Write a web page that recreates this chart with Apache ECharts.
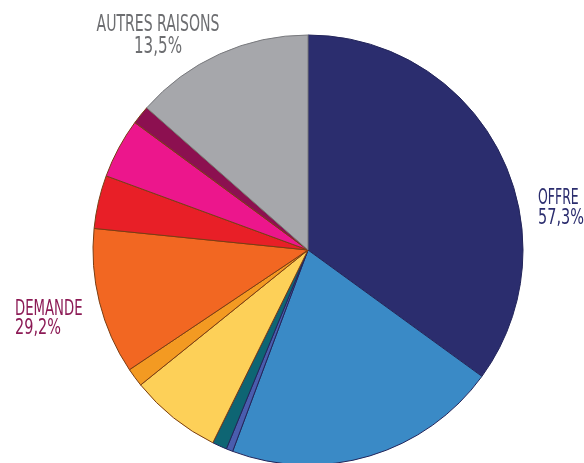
<!DOCTYPE html>
<html>
<head>
<meta charset="utf-8">
<script src="https://cdn.jsdelivr.net/npm/echarts@6/dist/echarts.min.js"></script>
<style>
  html, body { margin: 0; padding: 0; background: #fff; }
  #chart { width: 584px; height: 463px; }
</style>
</head>
<body>
<div id="chart"></div>
<script>
// Slice shares (%), clockwise from 12 o'clock
const offreValues   = [35.0, 20.7, 0.5, 1.1];
const offreColors   = ['#2b2d6e', '#3a8ac6', '#4a5dae', '#0e6573'];
const demandeValues = [6.9, 1.4, 11.0, 4.0, 4.5, 1.4];
const demandeColors = ['#fdd058', '#f39a22', '#f26722', '#e81f27', '#ec168c', '#8c1050'];
const autresValues  = [13.5];
const autresColors  = ['#a6a7ab'];

const groupNames = ['OFFRE', 'DEMANDE', 'AUTRES RAISONS'];

const CX = 308, CY = 250, R = 215;
const FONT = '"Liberation Sans Narrow", "DejaVu Sans Condensed", sans-serif';

function slices(values, colors, border, group) {
  return values.map((v, i) => ({
    name: group + ' ' + (i + 1),
    value: v,
    itemStyle: { color: colors[i], borderColor: border, borderWidth: 1 }
  }));
}

const data = [].concat(
  slices(offreValues, offreColors, '#23255a', 'offre'),
  slices(demandeValues, demandeColors, '#7a3d12', 'demande'),
  slices(autresValues, autresColors, '#78797d', 'autres')
);

function pct(values) {
  const s = values.reduce((a, b) => a + b, 0);
  return s.toFixed(1).replace('.', ',') + '%';
}

// Two-line group label: condensed word line, then percentage.
// Scaling happens around the text anchor (local origin 0,0).
function label(word, value, x, y1, y2, color, align, size, wordScale, numScale) {
  const common = { fill: color, align: align, verticalAlign: 'middle' };
  return [
    { type: 'text', x: x, y: y1, scaleX: wordScale, z: 10,
      style: Object.assign({ text: word, font: size + 'px ' + FONT }, common) },
    { type: 'text', x: x, y: y2, scaleX: numScale, z: 10,
      style: Object.assign({ text: value, font: size + 'px ' + FONT }, common) }
  ];
}

const chart = echarts.init(document.getElementById('chart'), null, { renderer: 'canvas' });
chart.setOption({
  animation: false,
  series: [{
    type: 'pie',
    center: [CX, CY],
    radius: [0, R],
    startAngle: 90,
    clockwise: true,
    label: { show: false },
    labelLine: { show: false },
    emphasis: { disabled: true },
    data: data
  }],
  graphic: [].concat(
    label(groupNames[0], pct(offreValues), 538, 198, 218, '#2b2d6e', 'left', 22, 0.63, 0.73),
    label(groupNames[1], pct(demandeValues), 15, 309, 328, '#8c1a55', 'left', 22, 0.67, 0.73),
    label(groupNames[2], pct(autresValues), 158, 25, 47, '#6d6e71', 'center', 23, 0.68, 0.73)
  )
});
</script>
</body>
</html>
